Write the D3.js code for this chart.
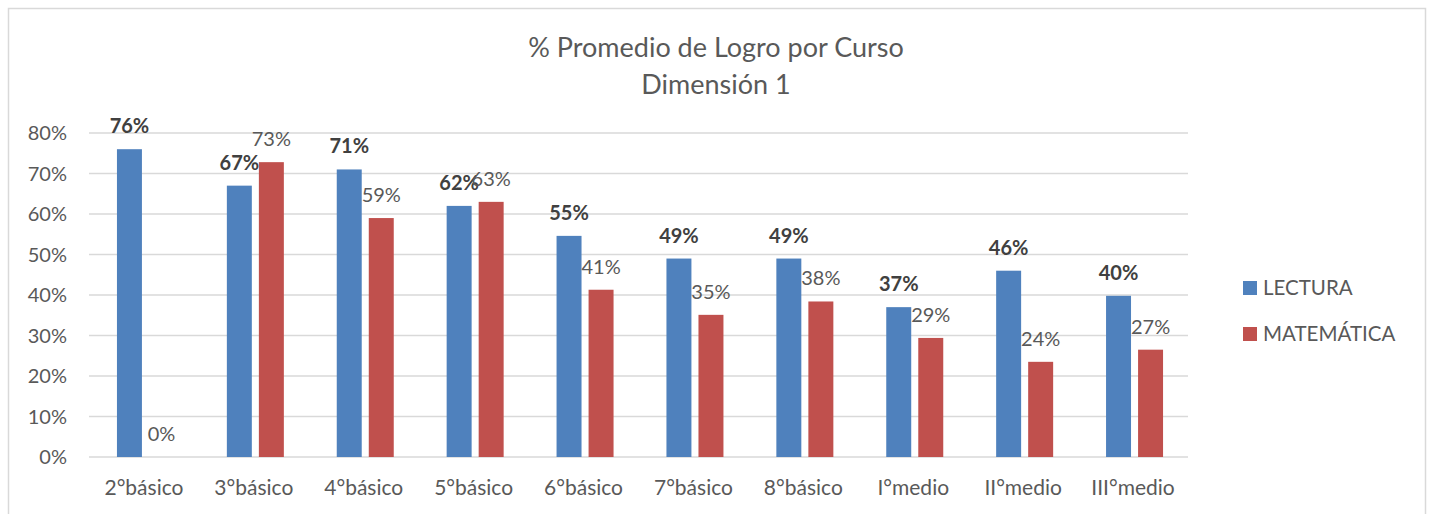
<!DOCTYPE html>
<html>
<head>
<meta charset="utf-8">
<script src="https://cdn.jsdelivr.net/npm/d3@7"></script>
<style>
  body { margin: 0; background: #fff; }
  text { font-family: Lato, "Open Sans", sans-serif; }
</style>
</head>
<body>
<svg class="chart" width="1431" height="514"></svg>
<script>
var blue = '#4F81BD';
var red = '#C0504D';
var grid_color = '#d9d9d9';
var text_color = '#595959';
var label_color = '#404040';

var cursos = ['2°básico', '3°básico', '4°básico', '5°básico', '6°básico', '7°básico', '8°básico', 'I°medio', 'II°medio', 'III°medio'];
var series = ['LECTURA', 'MATEMÁTICA'];
var lectura = [76, 67, 71, 62, 54.6, 49, 49, 37, 46, 39.8];
var matematica = [0, 72.8, 59, 63, 41.3, 35.1, 38.4, 29.4, 23.5, 26.5];
var y_ticks = [0, 10, 20, 30, 40, 50, 60, 70, 80];
var titulo = ['% Promedio de Logro por Curso', 'Dimensión 1'];

var svg = d3.select(".chart");

// chart frame
svg.append("rect")
    .attr("x", 8.5).attr("y", 8.5)
    .attr("width", 1417).attr("height", 520)
    .attr("fill", "#fff")
    .attr("stroke", grid_color)
    .attr("stroke-width", 1.5);

var x0 = d3.scaleBand().domain(cursos).range([89, 1188]);
var bw = x0.bandwidth();
var x1 = d3.scaleBand().domain(series).range([bw/2 - 27, bw/2 + 30]).paddingInner(0.22);
var y = d3.scaleLinear().domain([0, 80]).range([457, 133]);

// gridlines
svg.append("g")
    .selectAll("line")
    .data(y_ticks)
    .enter()
    .append("line")
    .attr("x1", 89).attr("x2", 1188)
    .attr("y1", function(d) { return y(d); })
    .attr("y2", function(d) { return y(d); })
    .attr("stroke", grid_color)
    .attr("stroke-width", 1.5);

// y tick labels
svg.append("g")
    .selectAll("text")
    .data(y_ticks)
    .enter()
    .append("text")
    .attr("x", 67)
    .attr("y", function(d) { return y(d); })
    .attr("dy", "0.35em")
    .attr("text-anchor", "end")
    .attr("font-size", 20)
    .attr("fill", text_color)
    .text(function(d) { return d + '%'; });

// x labels
svg.append("g")
    .selectAll("text")
    .data(cursos)
    .enter()
    .append("text")
    .attr("x", function(d) { return x0(d) + bw/2; })
    .attr("y", 488)
    .attr("dy", "0.35em")
    .attr("text-anchor", "middle")
    .attr("font-size", 21)
    .attr("fill", text_color)
    .text(function(d) { return d; });

var rows = cursos.map(function(c, i) {
    return {curso: c, values: [
        {serie: series[0], v: lectura[i], color: blue, bold: true},
        {serie: series[1], v: matematica[i], color: red, bold: false}
    ]};
});

var groups = svg.append("g")
    .selectAll("g")
    .data(rows)
    .enter()
    .append("g")
    .attr("transform", function(d) { return "translate(" + x0(d.curso) + ",0)"; });

groups.selectAll("rect")
    .data(function(d) { return d.values; })
    .enter()
    .append("rect")
    .attr("x", function(d) { return x1(d.serie); })
    .attr("y", function(d) { return y(d.v); })
    .attr("width", x1.bandwidth())
    .attr("height", function(d) { return y(0) - y(d.v); })
    .attr("fill", function(d) { return d.color; });

groups.selectAll("text")
    .data(function(d) { return d.values; })
    .enter()
    .append("text")
    .attr("x", function(d) { return x1(d.serie) + x1.bandwidth()/2; })
    .attr("y", function(d) { return y(d.v) - 23; })
    .attr("dy", "0.35em")
    .attr("text-anchor", "middle")
    .attr("font-size", 20)
    .attr("font-weight", function(d) { return d.bold ? "bold" : "normal"; })
    .attr("fill", function(d) { return d.bold ? label_color : text_color; })
    .text(function(d) { return Math.round(d.v) + '%'; });

// title
svg.append("g")
    .selectAll("text")
    .data(titulo)
    .enter()
    .append("text")
    .attr("x", 716)
    .attr("y", function(d, i) { return 48 + i*37; })
    .attr("dy", "0.35em")
    .attr("text-anchor", "middle")
    .attr("font-size", 27)
    .attr("fill", text_color)
    .text(function(d) { return d; });

// legend
var legend = svg.append("g")
    .selectAll("g")
    .data(series)
    .enter()
    .append("g")
    .attr("transform", function(d, i) { return "translate(1243," + (288 + i*46) + ")"; });

legend.append("rect")
    .attr("x", 0).attr("y", -7)
    .attr("width", 14).attr("height", 14)
    .attr("fill", function(d, i) { return i == 0 ? blue : red; });

legend.append("text")
    .attr("x", 20)
    .attr("dy", "0.35em")
    .attr("font-size", 20.5)
    .attr("fill", text_color)
    .text(function(d) { return d; });
</script>
</body>
</html>
